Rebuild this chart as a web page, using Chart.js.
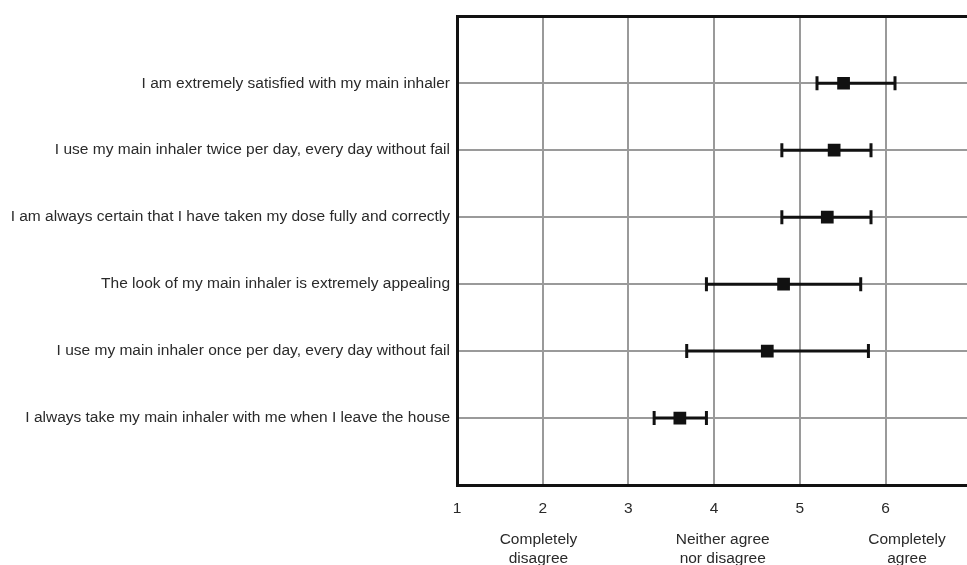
<!DOCTYPE html>
<html>
<head>
<meta charset="utf-8">
<script src="https://cdn.jsdelivr.net/npm/chart.js@4"></script>
<style>
  html, body { margin: 0; padding: 0; background: #fff; overflow: hidden; }
  #wrap { width: 976px; height: 565px; }
</style>
</head>
<body>
<div id="wrap"><canvas id="grafInhaler"></canvas></div>
<script>
// statements, top to bottom
const statements = [
    'I am extremely satisfied with my main inhaler',
    'I use my main inhaler twice per day, every day without fail',
    'I am always certain that I have taken my dose fully and correctly',
    'The look of my main inhaler is extremely appealing',
    'I use my main inhaler once per day, every day without fail',
    'I always take my main inhaler with me when I leave the house'
];

const means = [5.51, 5.40, 5.32, 4.81, 4.62, 3.60];
const lows = [5.20, 4.79, 4.79, 3.91, 3.68, 3.30];
const highs = [6.11, 5.83, 5.83, 5.71, 5.80, 3.91];

const xTicks = [1, 2, 3, 4, 5, 6];
const anchorValues = [1.95, 4.1, 6.25];
const anchorLabels = [
    ['Completely', 'disagree'],
    ['Neither agree', 'nor disagree'],
    ['Completely', 'agree']
];

const points = means.map((m, i) => ({ x: m, y: i + 1 }));

// draws the error bars behind the squares
const errorBars = {
    id: 'errorBars',
    beforeDatasetsDraw(chart) {
        const ctx = chart.ctx;
        const xs = chart.scales.x;
        const ys = chart.scales.y;
        ctx.save();
        ctx.strokeStyle = '#111';
        ctx.lineWidth = 3;
        for (let i = 0; i < means.length; i++) {
            const y = ys.getPixelForValue(i + 1);
            const x1 = xs.getPixelForValue(lows[i]);
            const x2 = xs.getPixelForValue(highs[i]);
            ctx.beginPath();
            ctx.moveTo(x1, y);
            ctx.lineTo(x2, y);
            ctx.moveTo(x1, y - 7);
            ctx.lineTo(x1, y + 7);
            ctx.moveTo(x2, y - 7);
            ctx.lineTo(x2, y + 7);
            ctx.stroke();
        }
        ctx.restore();
    }
};

const whiteBg = {
    id: 'whiteBg',
    beforeDraw(chart) {
        const ctx = chart.ctx;
        ctx.save();
        ctx.fillStyle = '#fff';
        ctx.fillRect(0, 0, chart.width, chart.height);
        ctx.restore();
    }
};

const font = { family: "'Liberation Sans', Arial, sans-serif", size: 15.5, lineHeight: 1.2 };

const config = {
    type: 'scatter',
    data: {
        datasets: [{
            data: points,
            pointStyle: 'rect',
            pointRadius: 9,
            pointHoverRadius: 9,
            backgroundColor: '#111',
            borderColor: '#111',
            borderWidth: 0
        }]
    },
    options: {
        responsive: true,
        maintainAspectRatio: false,
        animation: false,
        layout: { padding: { top: 12, left: 0, right: 0, bottom: 0 } },
        plugins: {
            legend: { display: false },
            tooltip: { enabled: false }
        },
        scales: {
            x: {
                type: 'linear',
                min: 1,
                max: 6.95,
                afterBuildTicks: (scale) => { scale.ticks = xTicks.map(v => ({ value: v })); },
                afterFit: (scale) => { scale.height = 36; },
                grid: {
                    color: (c) => c.tick && c.tick.value === 1 ? '#111' : '#9a9a9a',
                    lineWidth: 2,
                    drawTicks: false
                },
                border: { display: true, color: '#111', width: 3 },
                ticks: {
                    color: '#2a2a2a',
                    font: font,
                    padding: 14,
                    maxRotation: 0
                }
            },
            x2: {
                type: 'linear',
                position: 'bottom',
                min: 1,
                max: 6.95,
                afterBuildTicks: (scale) => { scale.ticks = anchorValues.map(v => ({ value: v })); },
                afterFit: (scale) => { scale.height = 44; },
                grid: { display: false, drawTicks: false },
                border: { display: false },
                ticks: {
                    color: '#2a2a2a',
                    font: { family: font.family, size: 15.5, lineHeight: 1.25 },
                    padding: 9,
                    maxRotation: 0,
                    autoSkip: false,
                    callback: (v, i) => anchorLabels[i]
                }
            },
            y: {
                type: 'linear',
                reverse: true,
                min: 0,
                max: 7,
                afterBuildTicks: (scale) => {
                    scale.ticks = [0, 1, 2, 3, 4, 5, 6, 7].map(v => ({ value: v }));
                },
                afterFit: (scale) => { scale.width = 457; },
                grid: {
                    color: (c) => c.tick && (c.tick.value === 0 || c.tick.value === 7) ? '#111' : '#9a9a9a',
                    lineWidth: (c) => c.tick && (c.tick.value === 0 || c.tick.value === 7) ? 3 : 2,
                    drawTicks: false
                },
                border: { display: true, color: '#111', width: 3 },
                ticks: {
                    color: '#2a2a2a',
                    font: font,
                    padding: 7,
                    autoSkip: false,
                    callback: (v) => statements[v - 1] || ''
                }
            }
        }
    },
    plugins: [whiteBg, errorBars]
};

const ctx = document.getElementById('grafInhaler').getContext('2d');
window.inhalerChart = new Chart(ctx, config);
</script>
</body>
</html>
